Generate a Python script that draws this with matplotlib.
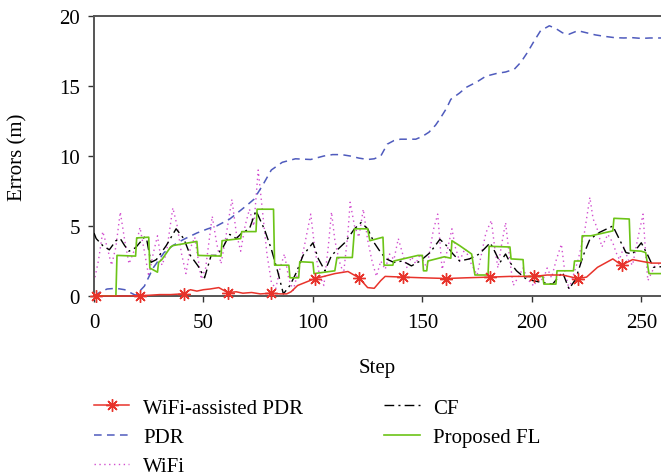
import numpy as np
import matplotlib
matplotlib.use("Agg")
import matplotlib.pyplot as plt

plt.rcParams['font.family'] = ['Liberation Serif', 'DejaVu Serif']
plt.rcParams['font.size'] = 15

# WiFi-assisted PDR (red, star markers)
red_steps = [0, 1, 5, 10, 15, 20, 21, 25, 30, 35, 40, 41, 44, 47, 50, 53, 57, 61, 65, 68,
             72, 76, 81, 85, 88, 90, 93, 97, 101, 105, 110, 116, 121, 125, 128, 131, 133,
             141, 150, 161, 170, 181, 190, 201, 207, 214, 221, 225, 230, 237, 241, 246,
             251, 255, 260]
red_vals = [0, 0, 0, 0, 0, 0.02, 0.03, 0.05, 0.1, 0.1, 0.15, 0.15, 0.45, 0.35, 0.45, 0.5,
            0.6, 0.25, 0.3, 0.2, 0.25, 0.15, 0.2, 0.15, 0.15, 0.3, 0.75, 1.0, 1.25, 1.4,
            1.6, 1.75, 1.3, 0.6, 0.55, 1.1, 1.4, 1.35, 1.3, 1.25, 1.3, 1.35, 1.4, 1.4,
            1.5, 1.5, 1.25, 1.35, 2.05, 2.65, 2.2, 2.6, 2.45, 2.35, 2.35]
marker_steps = [1, 21, 41, 61, 81, 101, 121, 141, 161, 181, 201, 221, 241]

# PDR (blue dashed)
pdr_steps = [0, 3, 6, 10, 14, 19, 23, 27, 32, 36, 41, 47, 52, 56, 62, 66, 70, 73, 77, 81,
             86, 92, 99, 105, 109, 113, 117, 121, 125, 128, 131, 134, 137, 140, 144, 147,
             150, 153, 156, 158, 161, 163, 167, 170, 175, 179, 184, 188, 192, 195, 198,
             201, 204, 208, 211, 214, 217, 221, 225, 229, 233, 238, 242, 246, 250, 254, 260]
pdr_vals = [0, 0.3, 0.5, 0.55, 0.45, 0.05, 0.7, 2.0, 3.1, 3.6, 4.05, 4.5, 4.8, 5.0, 5.5,
            6.0, 6.5, 6.9, 7.9, 9.0, 9.55, 9.8, 9.75, 10.0, 10.1, 10.1, 10.0, 9.85, 9.75,
            9.8, 10.0, 10.85, 11.1, 11.2, 11.2, 11.2, 11.4, 11.7, 12.2, 12.65, 13.4, 14.05,
            14.5, 14.9, 15.3, 15.7, 15.9, 16.0, 16.2, 16.7, 17.4, 18.2, 18.95, 19.3, 19.1,
            18.8, 18.7, 18.95, 18.8, 18.65, 18.55, 18.45, 18.43, 18.45, 18.4, 18.43, 18.43]

# WiFi (magenta dotted)
wifi_steps = [0, 2, 4, 6, 8, 10, 12, 14, 16, 19, 21, 23, 25, 27, 29, 31, 33, 36, 38, 40,
              42, 44, 46, 49, 51, 54, 56, 58, 60, 63, 65, 67, 69, 71, 73, 75, 77, 79, 81,
              83, 85, 87, 89, 91, 94, 96, 99, 101, 103, 105, 107, 108.5, 110, 112, 114,
              116, 117, 119, 121, 123, 125, 127, 129, 131, 133, 135, 137, 139, 141, 143,
              145, 147, 149, 152, 155, 157, 159, 161, 163.5, 165, 167, 169.5, 172, 175,
              177, 179, 181.5, 183, 184.5, 186, 188, 190, 191.5, 194, 196, 198, 201, 203,
              205, 207, 209, 211, 213.5, 215, 217, 219, 221, 224, 226.5, 228, 229.5, 232,
              234.7, 237, 238.5, 240, 242, 244, 246, 248, 250.8, 252, 253, 256, 260]
wifi_vals = [1.0, 2.5, 4.6, 3.5, 2.2, 3.5, 6.0, 4.0, 2.3, 3.5, 4.9, 3.2, 1.4, 3.0, 4.3,
             2.2, 3.0, 6.3, 5.0, 3.0, 1.6, 3.4, 4.2, 1.2, 2.0, 5.7, 3.8, 2.3, 4.0, 6.9,
             4.5, 3.2, 5.0, 6.2, 5.0, 9.0, 6.0, 3.0, 1.0, 0.5, 2.0, 3.0, 1.2, 0.4, 2.2,
             3.5, 5.85, 3.2, 1.5, 0.75, 3.5, 6.0, 4.0, 2.5, 1.6, 4.5, 6.7, 5.0, 4.2, 6.2,
             4.0, 2.5, 1.4, 2.5, 1.9, 3.0, 2.6, 4.1, 3.0, 2.0, 2.8, 2.3, 3.0, 2.0, 4.7,
             5.85, 1.9, 3.0, 4.8, 3.5, 2.5, 3.4, 2.4, 1.5, 3.0, 4.5, 5.4, 3.5, 2.0, 3.5,
             5.25, 2.5, 0.75, 1.4, 2.0, 1.2, 0.7, 1.5, 1.1, 2.0, 1.3, 2.5, 3.7, 1.8, 0.5,
             1.5, 2.5, 4.5, 7.05, 5.5, 5.0, 3.5, 4.4, 3.8, 3.1, 2.6, 3.5, 2.6, 2.2, 3.8,
             5.85, 3.0, 1.1, 2.1, 2.5]

# CF (black dash-dot)
cf_steps = [0, 1, 4, 7, 10, 12, 14, 16, 19, 23, 24, 26, 28.5, 33, 37.5, 41, 44, 47.5,
            50.5, 53.5, 56, 59, 62, 65, 67.5, 71, 74, 78, 81, 84, 86.5, 89.5, 92.5, 95.5,
            100, 102.5, 105.5, 108.5, 114.5, 119, 122, 125, 128, 131, 133.5, 137, 141,
            145, 149, 153.5, 158, 161, 164, 167, 171.5, 176, 181, 183, 185.5, 188, 190,
            193, 197.5, 203.5, 209.5, 214, 217, 220, 223.5, 226.5, 231, 237, 240, 243,
            246, 250, 253, 255.5, 260]
cf_vals = [4.5, 4.1, 3.6, 3.3, 3.95, 4.1, 3.6, 3.2, 3.45, 4.2, 4.1, 2.4, 2.6, 3.6, 4.8,
           4.1, 2.9, 2.15, 1.3, 2.9, 2.9, 3.5, 4.4, 4.1, 4.5, 4.8, 6.1, 4.7, 3.35, 1.7,
           0.15, 0.75, 1.7, 2.9, 3.8, 2.65, 1.8, 2.9, 3.8, 4.8, 5.25, 4.8, 3.8, 3.1, 2.65,
           2.4, 2.5, 2.15, 2.5, 3.1, 4.05, 3.6, 3.0, 2.5, 2.65, 3.0, 3.8, 3.2, 2.4, 3.0,
           2.4, 1.8, 1.2, 1.0, 0.85, 1.7, 0.5, 1.2, 2.9, 4.05, 4.55, 5.0, 4.05, 3.1, 3.0,
           3.8, 2.9, 2.05, 2.1]

# Proposed FL (green, stepped)
fl_steps = [0, 10, 10.5, 19, 19.5, 25, 25.5, 29, 29.5, 31, 35, 36, 47, 47.5, 58, 58.5,
            67, 67.5, 74, 74.5, 82, 82.5, 89, 89.5, 93.5, 94, 100, 100.5, 110, 111, 118,
            119, 125, 126, 132, 132.5, 136.5, 137, 148, 150, 150.5, 152, 152.5, 160, 163,
            163.5, 167, 172.5, 174, 180, 180.5, 190, 190.5, 196, 196.5, 205, 205.5, 211,
            211.5, 219, 219.5, 222.5, 223, 227, 237, 237.5, 244.5, 245, 250, 252, 253.5, 260]
fl_vals = [0, 0, 2.9, 2.85, 4.15, 4.2, 2.0, 1.7, 2.4, 2.6, 3.5, 3.6, 3.9, 2.9, 2.85, 3.95,
           4.1, 4.6, 4.6, 6.2, 6.2, 2.2, 2.2, 1.3, 1.3, 2.45, 2.4, 1.6, 1.8, 2.75, 2.75,
           4.8, 4.8, 3.95, 4.2, 2.2, 2.2, 2.5, 2.9, 2.9, 1.8, 1.8, 2.5, 2.8, 2.7, 3.95,
           3.6, 3.0, 1.5, 1.5, 3.55, 3.5, 2.65, 2.6, 1.4, 1.4, 0.85, 0.85, 1.8, 1.8, 2.5,
           2.5, 4.3, 4.3, 4.65, 5.55, 5.5, 3.25, 3.2, 3.1, 1.6, 1.6]

fig = plt.figure(figsize=(6.61, 4.77), dpi=100)
ax = fig.add_axes([94 / 661, 1 - 297 / 477, 1 - 94 / 661, 280 / 477])

mark_idx = [red_steps.index(s) for s in marker_steps]
ax.plot(red_steps, red_vals, color='#e8332b', lw=1.1, marker=(8, 2, 0), ms=9,
        mew=1.0, markevery=mark_idx, label='WiFi-assisted PDR', zorder=6, clip_on=False)
ax.plot(pdr_steps, pdr_vals, color='#4f5bbd', lw=1.1, ls=(0, (5, 3.5)), label='PDR', zorder=3)
ax.plot(wifi_steps, wifi_vals, color='#d24fcf', lw=1.0, ls=(0, (1, 2.5)), label='WiFi', zorder=2)
ax.plot(cf_steps, cf_vals, color='black', lw=1.0, ls=(0, (7, 3, 1.5, 3)), label='CF', zorder=4)
ax.plot(fl_steps, fl_vals, color='#6cc417', lw=1.2, label='Proposed FL', zorder=5)

ax.set_xlim(0, 259)
ax.set_ylim(0, 20)
ax.set_xticks([0, 50, 100, 150, 200, 250])
ax.set_yticks([0, 5, 10, 15, 20])
ax.spines['right'].set_visible(False)
for side in ['left', 'top', 'bottom']:
    ax.spines[side].set_color('#555555')
    ax.spines[side].set_linewidth(1.4)
ax.tick_params(direction='out', length=4, width=1, color='#333333', labelsize=15, pad=6)
ax.tick_params(axis='x', pad=8)

ax.set_xlabel('Step', fontsize=15)
ax.set_ylabel('Errors (m)', fontsize=15)
ax.xaxis.set_label_coords(0.5, -0.222)
ax.yaxis.set_label_coords(-0.118, 0.5)

fig.legend(loc='upper left', bbox_to_anchor=(94 / 661, 1 - 399 / 477), ncol=2,
           frameon=False, fontsize=15, handlelength=1.7, handletextpad=0.65,
           columnspacing=3.9, labelspacing=0.47, borderpad=0, borderaxespad=0)

fig.savefig('out.png', dpi=100)
